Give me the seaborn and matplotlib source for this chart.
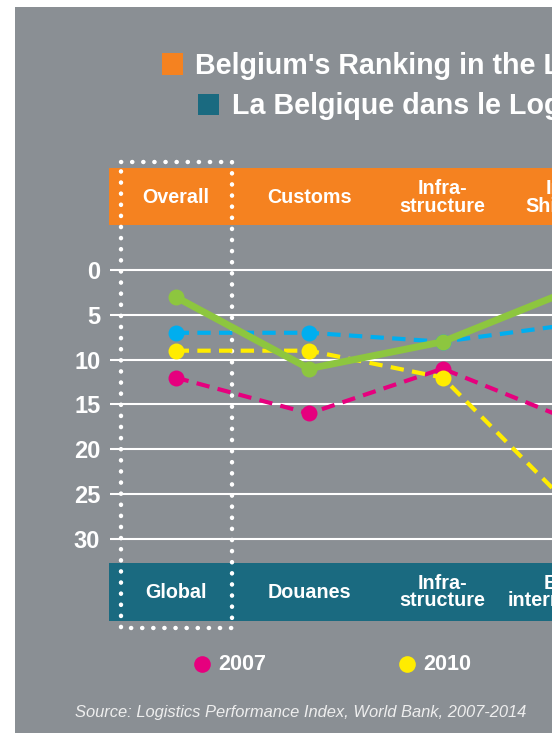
import numpy as np
import pandas as pd
import matplotlib
matplotlib.use("Agg")
import matplotlib.pyplot as plt
import matplotlib.transforms as mtransforms
from matplotlib.lines import Line2D
from matplotlib.patches import Rectangle
import seaborn as sns

# data (LPI rank of Belgium, lower is better)
categories_en = ["Overall", "Customs", "Infra-\nstructure", "Intern.\nShipments"]
categories_fr = ["Global", "Douanes", "Infra-\nstructure", "Envois\ninternationaux"]
years = ["2007", "2010", "2012", "2014"]
rank_2007 = [12, 16, 11, 17]
rank_2010 = [9, 9, 12, 27]
rank_2012 = [7, 7, 8, 6]
rank_2014 = [3, 11, 8, 2]
y_ticks = [0, 5, 10, 15, 20, 25, 30]

GREY = "#8a8f94"
ORANGE = "#f58220"
TEAL = "#1a6a80"
colors = {"2007": "#e6007e", "2010": "#ffec00", "2012": "#00aeef", "2014": "#8dc63f"}

sns.set_theme(style="white")
plt.rcParams['font.family'] = ['Liberation Sans', 'DejaVu Sans']

W, H = 552, 733


def fx(px):
    return px / W


def fy(py):
    return 1 - py / H


fig = plt.figure(figsize=(W / 100, H / 100), dpi=100, facecolor="white")

# grey panel
fig.add_artist(Rectangle((fx(15), 0), 1, fy(7), transform=fig.transFigure,
                         facecolor=GREY, edgecolor="none", zorder=0))
# header bars
fig.add_artist(Rectangle((fx(109), fy(225.5)), 1, (225.5 - 168.3) / H,
                         transform=fig.transFigure, facecolor=ORANGE,
                         edgecolor="none", zorder=1))
fig.add_artist(Rectangle((fx(109), fy(621)), 1, (621 - 563) / H,
                         transform=fig.transFigure, facecolor=TEAL,
                         edgecolor="none", zorder=1))

# plot area (runs past the right edge, like the cropped original)
xmin, xmax = -0.492, 4.0
ax = fig.add_axes([fx(110), fy(563), 133.5 * (xmax - xmin) / W, (563 - 225) / H])
ax.set_zorder(3)
ax.patch.set_visible(False)

df = pd.DataFrame({"pos": np.arange(len(categories_en)),
                   "2007": rank_2007, "2010": rank_2010,
                   "2012": rank_2012, "2014": rank_2014})
long = df.melt(id_vars="pos", var_name="year", value_name="rank")

for yr in years:
    sub = long[long["year"] == yr]
    solid = yr == "2014"
    sns.lineplot(data=sub, x="pos", y="rank", ax=ax, color=colors[yr],
                 marker="o", markersize=11.5, markeredgewidth=0,
                 linewidth=5 if solid else 3,
                 linestyle="-" if solid else (0, (3.2, 2.0)),
                 legend=False)

ax.set_xlim(xmin, xmax)
ax.set_ylim(32.68, -5.02)
ax.set_yticks(y_ticks)
ax.set_yticklabels([str(t) for t in y_ticks])
ax.set_xticks([])
ax.set_xlabel("")
ax.set_ylabel("")
ax.yaxis.grid(True, color="white", linewidth=1.5)
ax.xaxis.grid(False)
ax.set_axisbelow(True)
for s in ax.spines.values():
    s.set_visible(False)
ax.tick_params(axis="y", length=0, pad=7, labelcolor="white", labelsize=17)
for lab in ax.get_yticklabels():
    lab.set_fontweight("bold")

# category labels on the bars
trans = mtransforms.blended_transform_factory(ax.transData, fig.transFigure)
for i, (en, fr) in enumerate(zip(categories_en, categories_fr)):
    fig.text(i, fy(197.5), en, transform=trans, ha="center", va="center",
             color="white", fontsize=14.2, fontweight="bold",
             linespacing=0.92, zorder=4)
    fig.text(i, fy(592), fr, transform=trans, ha="center", va="center",
             color="white", fontsize=14.2, fontweight="bold",
             linespacing=0.92, zorder=4)

# dotted box around the overall column
bx = [fx(120.7), fx(232), fx(232), fx(120.7), fx(120.7)]
by = [fy(162.3), fy(162.3), fy(628), fy(628), fy(162.3)]
fig.add_artist(Line2D(bx, by, transform=fig.transFigure, color="white",
                      linewidth=3.2, linestyle=(0, (0.05, 2.45)),
                      dash_capstyle="round", solid_capstyle="round", zorder=2))

# title
fig.add_artist(Rectangle((fx(161.7), fy(74.7)), 21.5 / W, 21.5 / H,
                         transform=fig.transFigure, facecolor=ORANGE,
                         edgecolor="none", zorder=4))
fig.text(fx(195), fy(74.5), "Belgium's Ranking in the Logistics Performance Index",
         ha="left", va="baseline", color="white", fontsize=20.6,
         fontweight="bold", zorder=4)
fig.add_artist(Rectangle((fx(197.7), fy(115)), 21.5 / W, 21.5 / H,
                         transform=fig.transFigure, facecolor=TEAL,
                         edgecolor="none", zorder=4))
fig.text(fx(231.7), fy(114), "La Belgique dans le Logistics Performance Index",
         ha="left", va="baseline", color="white", fontsize=20.6,
         fontweight="bold", zorder=4)

# legend
for i, yr in enumerate(years):
    cx = 201.7 + 205 * i
    fig.add_artist(Line2D([fx(cx)], [fy(663.5)], transform=fig.transFigure,
                          marker="o", markersize=12, markeredgewidth=0,
                          color=colors[yr], linestyle="none", zorder=4))
    fig.text(fx(cx + 17), fy(664), yr, ha="left", va="center",
             color="white", fontsize=15.5, fontweight="bold", zorder=4)

fig.text(fx(301), fy(712), "Source: Logistics Performance Index, World Bank, 2007-2014",
         ha="center", va="center", color="#eeeeee", fontsize=11.9,
         style="italic", zorder=4)

fig.savefig("out.png", dpi=100, facecolor="white")
